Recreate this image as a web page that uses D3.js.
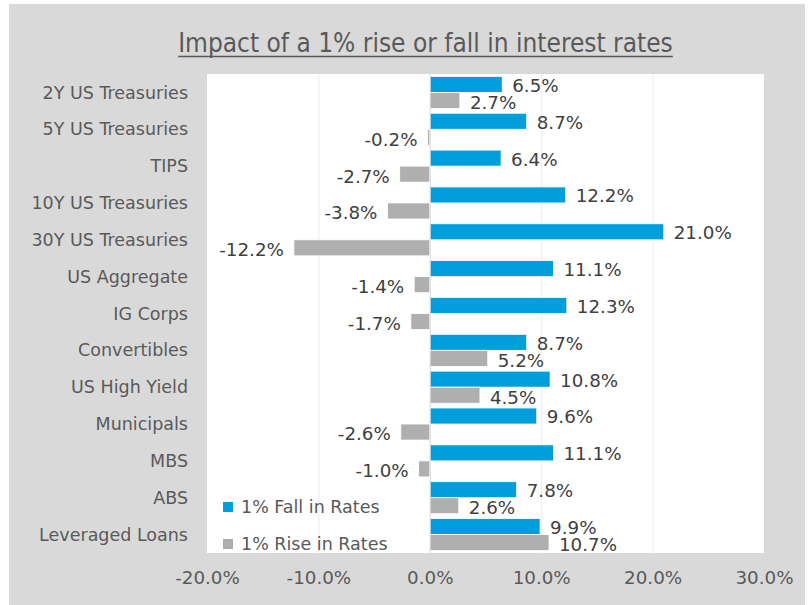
<!DOCTYPE html>
<html>
<head>
<meta charset="utf-8">
<script src="https://cdn.jsdelivr.net/npm/d3@7"></script>
<style>
  body { margin: 0; background: #fff; }
  text { font-family: 'DejaVu Sans', sans-serif; }
</style>
</head>
<body>
<div class="chart"></div>
<script>
// Data

const categories = ['2Y US Treasuries', '5Y US Treasuries', 'TIPS', '10Y US Treasuries', '30Y US Treasuries',
  'US Aggregate', 'IG Corps', 'Convertibles', 'US High Yield', 'Municipals', 'MBS', 'ABS', 'Leveraged Loans']
const fallValues = [6.5, 8.7, 6.4, 12.2, 21.0, 11.1, 12.3, 8.7, 10.8, 9.6, 11.1, 7.8, 9.9]
const riseValues = [2.7, -0.2, -2.7, -3.8, -12.2, -1.4, -1.7, 5.2, 4.5, -2.6, -1.0, 2.6, 10.7]
const seriesNames = ['1% Fall in Rates', '1% Rise in Rates']
const xTicks = [-20, -10, 0, 10, 20, 30]

// Chart

const W = 808
const H = 605
const plot = {left: 207, right: 764, top: 74, bottom: 553}
const colors = ['#009fdb', '#afafaf']
const fs = '17.5px'
const fsNum = '18.3px'

const svg = d3.select('.chart')
  .append('svg')
    .attr('width', W)
    .attr('height', H)

svg.append('rect')
  .attr('x', 9).attr('y', 4)
  .attr('width', 796).attr('height', H - 4)
  .attr('fill', '#d9d9d9')

svg.append('rect')
  .attr('x', plot.left).attr('y', plot.top)
  .attr('width', plot.right - plot.left).attr('height', plot.bottom - plot.top)
  .attr('fill', '#fff')

// title
const title = svg.append('text')
  .attr('x', (plot.left + plot.right) / 2 - 60)
  .attr('y', 52)
  .attr('text-anchor', 'middle')
  .style('font-family', "'Liberation Sans Narrow', 'DejaVu Sans Condensed', sans-serif")
  .style('font-size', '26px')
  .attr('fill', '#595959')
  .text('Impact of a 1% rise or fall in interest rates')

const tb = title.node().getBBox()
svg.append('line')
  .attr('x1', tb.x).attr('x2', tb.x + tb.width)
  .attr('y1', 56.5).attr('y2', 56.5)
  .attr('stroke', '#595959').attr('stroke-width', 1.3)

const x = d3.scaleLinear()
  .domain([xTicks[0], xTicks[xTicks.length - 1]])
  .range([plot.left, plot.right])

const y = d3.scaleBand()
  .domain(categories)
  .range([plot.top, plot.bottom])
  .paddingInner(0.13)
  .paddingOuter(0.065)

// gridlines
svg.append('g')
  .selectAll('line')
  .data(xTicks.filter((d) => d !== 0 && d !== xTicks[0] && d !== xTicks[xTicks.length - 1]))
  .enter().append('line')
    .attr('x1', (d) => x(d) + 0.5).attr('x2', (d) => x(d) + 0.5)
    .attr('y1', plot.top).attr('y2', plot.bottom)
    .attr('stroke', '#ececec')

// x axis
const xAxis = d3.axisBottom(x)
  .tickValues(xTicks)
  .tickFormat((d) => d.toFixed(1) + '%')
  .tickSize(0)
  .tickPadding(0)

svg.append('g')
    .attr('transform', `translate(0,${plot.bottom})`)
    .call(xAxis)
    .call((g) => g.select('.domain').remove())
  .selectAll('text')
    .attr('y', 31)
    .attr('dy', 0)
    .style('font-size', fsNum)
    .attr('fill', '#595959')

// y axis labels
const yAxis = d3.axisLeft(y).tickSize(0).tickPadding(0)
svg.append('g')
    .attr('transform', `translate(${188},0)`)
    .call(yAxis)
    .call((g) => g.select('.domain').remove())
  .selectAll('text')
    .attr('dy', '0.35em')
    .style('font-size', fs)
    .attr('fill', '#595959')

const bh = y.bandwidth() / 2

const rows = categories.map((c, i) => ({name: c, fall: fallValues[i], rise: riseValues[i]}))

const series = [
  {key: 'fall', off: 0, shift: 1, color: colors[0]},
  {key: 'rise', off: bh, shift: 2, color: colors[1]}
]

series.forEach((s) => {
  svg.append('g')
    .selectAll('rect')
    .data(rows)
    .enter().append('rect')
      .attr('x', (d) => Math.min(x(0), x(d[s.key])))
      .attr('y', (d) => y(d.name) + s.off)
      .attr('width', (d) => Math.abs(x(d[s.key]) - x(0)))
      .attr('height', bh)
      .attr('fill', s.color)
      .attr('stroke', '#fff')
      .attr('stroke-width', 0.8)

  svg.append('g')
    .selectAll('text')
    .data(rows)
    .enter().append('text')
      .attr('x', (d) => d[s.key] >= 0 ? x(d[s.key]) + 10 : x(d[s.key]) - 10)
      .attr('y', (d) => y(d.name) + s.off + bh / 2 + s.shift)
      .attr('dy', '0.35em')
      .attr('text-anchor', (d) => d[s.key] >= 0 ? 'start' : 'end')
      .style('font-size', fsNum)
      .attr('fill', '#404040')
      .text((d) => d[s.key].toFixed(1) + '%')
})

// zero line
svg.append('line')
  .attr('x1', x(0) + 0.5).attr('x2', x(0) + 0.5)
  .attr('y1', plot.top).attr('y2', plot.bottom)
  .attr('stroke', '#d9d9d9')

// legend
const legend = svg.append('g')
  .selectAll('g')
  .data(seriesNames)
  .enter().append('g')
    .attr('transform', (d, i) => `translate(223,${507 + i * 37})`)

legend.append('rect')
  .attr('x', 0).attr('y', -5)
  .attr('width', 10).attr('height', 10)
  .attr('fill', (d, i) => colors[i])

legend.append('text')
  .attr('x', 18)
  .attr('dy', '0.35em')
  .style('font-size', fs)
  .attr('fill', '#595959')
  .text((d) => d)
</script>
</body>
</html>
